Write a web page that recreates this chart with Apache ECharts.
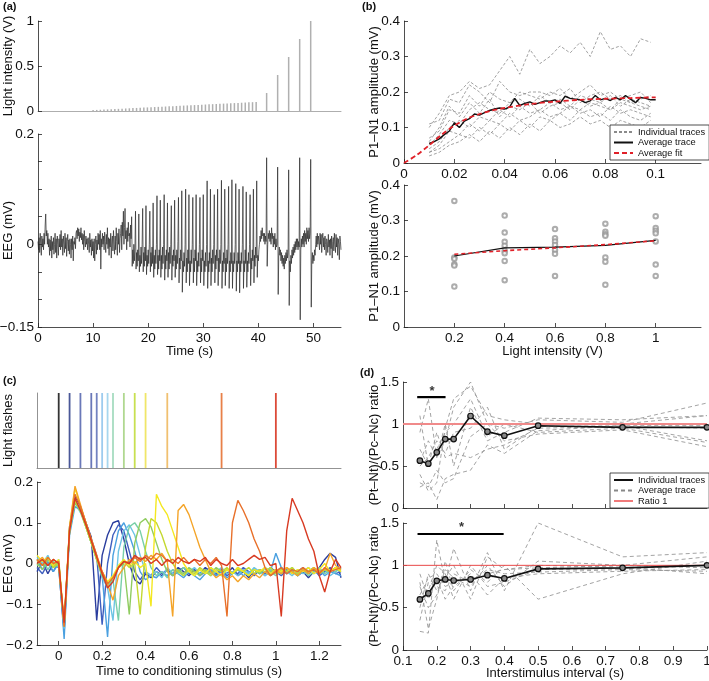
<!DOCTYPE html>
<html><head><meta charset="utf-8">
<script src="https://cdn.jsdelivr.net/npm/echarts@6/dist/echarts.min.js"></script>
<style>html,body{margin:0;padding:0;background:#fff}#c{width:709px;height:681px}</style>
</head><body><div id="c"></div><script>
// ---------- (a) ----------
const aStimTimes = [10.0,10.66,11.32,11.97,12.63,13.29,13.95,14.6,15.26,15.92,16.58,17.23,17.89,18.55,19.21,19.86,20.52,21.18,21.84,22.5,23.15,23.81,24.47,25.13,25.78,26.44,27.1,27.76,28.41,29.07,29.73,30.39,31.05,31.7,32.36,33.02,33.68,34.33,34.99,35.65,36.31,36.96,37.62,38.28,38.94,39.6,41.5,43.5,45.5,47.5,49.5];
const aStimValues = [0.01,0.012,0.014,0.016,0.018,0.02,0.022,0.024,0.026,0.028,0.03,0.032,0.034,0.036,0.038,0.04,0.042,0.044,0.046,0.048,0.05,0.052,0.054,0.056,0.058,0.06,0.062,0.064,0.066,0.068,0.07,0.072,0.074,0.076,0.078,0.08,0.082,0.084,0.086,0.088,0.09,0.092,0.094,0.096,0.098,0.1,0.2,0.4,0.6,0.8,1.0];
const aEegStart = 0, aEegStep = 0.1;
const aEeg = [
0.005,-0.01,0.012,-0.015,0.02,0.0,-0.02,0.015,-0.005,0.01,
-0.01,0.02,0.0,0.035,0.055,0.015,0.025,0.0,0.02,-0.005,
0.01,-0.02,0.008,-0.012,0.015,-0.025,0.005,-0.01,0.012,-0.018,
0.0,0.02,-0.015,0.01,-0.025,0.015,0.0,-0.02,0.01,-0.005,
0.018,-0.01,0.025,-0.005,0.01,-0.02,0.015,0.0,-0.015,0.02,
-0.008,0.012,-0.022,0.005,0.018,-0.012,0.008,-0.018,0.01,0.0,
-0.025,0.01,-0.01,0.015,-0.03,0.005,0.0,0.012,-0.008,0.02,
0.025,0.01,0.03,0.015,0.028,0.005,0.022,0.012,0.03,0.008,
0.02,0.0,0.018,-0.01,0.025,0.005,-0.005,0.015,0.0,0.01,
-0.01,0.012,0.0,-0.015,0.02,-0.005,0.008,-0.02,0.01,-0.012,
0.005,-0.025,0.01,-0.03,0.0,0.015,-0.018,0.008,-0.01,0.02,
0.0,0.018,-0.01,0.025,-0.045,0.01,-0.005,0.02,0.0,0.015,
-0.01,0.022,0.005,-0.015,0.018,0.0,0.03,-0.008,0.012,-0.02,
0.01,-0.005,0.02,-0.025,0.008,0.015,-0.012,0.025,0.0,-0.018,
0.015,-0.01,0.03,0.005,-0.02,0.02,0.0,0.028,-0.015,0.01,
0.02,0.035,-0.01,0.04,0.015,0.06,0.0,0.03,0.065,0.01,
0.025,-0.01,0.03,0.005,0.04,0.015,0.02,-0.005,0.035,0.01,
0.05,-0.04,-0.01,-0.035,0.0,-0.03,-0.005,0.06,-0.045,-0.015,
-0.04,-0.01,-0.03,0.055,-0.05,-0.02,-0.04,-0.005,-0.035,0.0,
0.065,-0.05,-0.015,-0.04,-0.005,-0.03,0.07,-0.055,-0.02,-0.04,
-0.01,-0.035,0.0,0.06,-0.05,-0.015,-0.04,-0.005,-0.035,0.075,
-0.06,-0.02,-0.045,-0.01,-0.035,0.0,0.088,-0.055,-0.02,-0.045,
-0.01,-0.03,0.08,-0.06,-0.02,-0.045,-0.005,-0.035,0.0,0.09,
-0.065,-0.02,-0.045,-0.01,-0.03,0.075,-0.06,-0.015,-0.045,-0.005,
-0.035,0.0,0.07,-0.065,-0.02,-0.04,-0.01,-0.03,0.08,-0.06,
-0.02,-0.045,-0.01,-0.035,0.005,0.085,-0.07,-0.025,-0.045,-0.01,
-0.03,0.097,-0.087,-0.03,-0.05,-0.015,-0.04,0.0,0.1,-0.07,
-0.025,-0.05,-0.01,-0.035,0.09,-0.075,-0.03,-0.05,-0.01,-0.035,
0.0,0.085,-0.07,-0.025,-0.05,-0.01,-0.03,0.09,-0.075,-0.03,
-0.05,-0.015,-0.04,0.0,0.085,-0.07,-0.025,-0.05,-0.01,-0.03,
0.09,-0.075,-0.03,-0.05,-0.015,-0.04,0.0,0.115,-0.08,-0.03,
-0.05,-0.015,-0.035,0.1,-0.075,-0.025,-0.05,-0.01,-0.035,0.0,
0.09,-0.07,-0.02,-0.045,-0.01,-0.03,0.1,-0.075,-0.025,-0.05,
-0.01,-0.035,0.0,0.116,-0.08,-0.03,-0.05,-0.015,-0.035,0.1,
-0.075,-0.025,-0.05,-0.01,-0.035,0.0,0.105,-0.08,-0.03,-0.05,
-0.015,-0.035,0.117,-0.08,-0.03,-0.05,-0.015,-0.035,0.0,0.11,
-0.085,-0.03,-0.05,-0.015,-0.035,0.1,-0.088,-0.03,-0.05,-0.015,
-0.035,0.0,0.105,-0.08,-0.03,-0.05,-0.01,-0.035,0.095,-0.078,
-0.03,-0.05,-0.015,-0.035,0.0,0.09,-0.075,-0.025,-0.045,-0.01,
-0.03,0.1,-0.07,-0.02,-0.04,-0.005,-0.025,0.115,-0.06,-0.02,
-0.03,-0.01,0.0,0.015,0.005,0.025,0.01,0.03,0.015,0.02,
0.005,0.02,0.0,0.015,0.005,0.157,-0.04,0.0,0.02,0.01,
0.025,0.005,0.02,0.0,0.03,0.01,0.02,-0.005,0.015,0.0,
0.02,-0.01,0.01,-0.005,0.0,0.14,-0.091,-0.02,-0.005,-0.02,
-0.01,-0.03,-0.015,-0.035,-0.02,-0.04,-0.025,-0.045,-0.02,-0.035,
-0.015,-0.03,-0.01,-0.025,-0.015,0.135,-0.111,-0.03,-0.05,-0.02,
-0.035,-0.01,-0.025,-0.005,-0.02,0.0,-0.015,0.005,-0.01,0.01,
-0.005,0.01,-0.01,0.005,-0.005,0.157,-0.137,-0.01,0.01,-0.005,
0.015,0.0,0.02,-0.005,0.025,0.005,0.02,0.0,0.03,0.01,
0.025,0.005,0.03,0.01,0.02,0.154,-0.114,-0.03,-0.015,-0.035,
-0.02,-0.03,-0.01,-0.02,0.0,0.015,-0.005,0.02,0.0,0.015,
0.005,-0.01,0.02,0.0,0.018,-0.015,0.01,0.02,-0.005,0.012,
-0.01,0.015,0.0,-0.02,0.01,0.005,-0.015,0.018,-0.005,0.008,
-0.02,0.01,-0.008,0.015,-0.025,0.005,0.012,-0.012,0.02,0.0,
-0.015,0.018,-0.005,0.012,-0.02,0.01,0.0,-0.028,0.015,0.005,
-0.01];
const aBotYTickVals = [-0.15, 0, 0.2];
const aBotYTickLabels = ['\u22120.15', '0', '0.2'];

// ---------- (b) ----------
const bAvgX = [0.01,0.012,0.014,0.016,0.018,0.02,0.022,0.024,0.026,0.028,0.03,0.032,0.034,0.036,0.038,0.04,0.042,0.044,0.046,0.048,0.05,0.052,0.054,0.056,0.058,0.06,0.062,0.064,0.066,0.068,0.07,0.072,0.074,0.076,0.078,0.08,0.082,0.084,0.086,0.088,0.09,0.092,0.094,0.096,0.098,0.1];
const bAvgY = [0.055,0.06,0.068,0.08,0.09,0.113,0.1,0.118,0.125,0.138,0.135,0.142,0.148,0.152,0.155,0.152,0.158,0.182,0.162,0.168,0.172,0.165,0.17,0.175,0.174,0.178,0.168,0.188,0.182,0.18,0.178,0.17,0.175,0.19,0.178,0.182,0.176,0.185,0.178,0.19,0.18,0.17,0.185,0.182,0.178,0.178];
const bFitX = [0,0.005,0.01,0.015,0.02,0.025,0.03,0.035,0.04,0.05,0.06,0.07,0.08,0.09,0.1];
const bFitY = [0,0.022,0.05,0.08,0.105,0.125,0.138,0.148,0.155,0.166,0.173,0.178,0.181,0.183,0.185];
const bIndX = [0.01,0.014,0.018,0.022,0.026,0.03,0.034,0.038,0.042,0.046,0.05,0.054,0.058,0.062,0.066,0.07,0.074,0.078,0.082,0.086,0.09,0.094,0.098];
const bInd1 = [0.1,0.14,0.19,0.2,0.23,0.21,0.22,0.26,0.3,0.25,0.32,0.28,0.3,0.33,0.31,0.34,0.3,0.37,0.32,0.33,0.3,0.35,0.34];
const bInd2 = [0.11,0.12,0.18,0.17,0.22,0.2,0.17,0.23,0.2,0.19,0.2,0.2,0.19,0.21,0.18,0.2,0.22,0.19,0.2,0.18,0.19,0.2,0.17];
const bInd3 = [0.07,0.09,0.15,0.14,0.19,0.16,0.2,0.18,0.17,0.2,0.19,0.18,0.2,0.19,0.21,0.17,0.19,0.2,0.18,0.19,0.17,0.18,0.19];
const bInd4 = [0.05,0.08,0.12,0.11,0.15,0.17,0.15,0.14,0.17,0.18,0.16,0.19,0.17,0.18,0.16,0.19,0.18,0.17,0.19,0.16,0.18,0.17,0.16];
const bInd5 = [0.04,0.06,0.1,0.12,0.1,0.13,0.12,0.15,0.13,0.16,0.14,0.15,0.17,0.15,0.16,0.15,0.17,0.16,0.15,0.17,0.16,0.15,0.16];
const bInd6 = [0.03,0.05,0.09,0.08,0.11,0.09,0.12,0.11,0.14,0.12,0.13,0.15,0.13,0.14,0.16,0.14,0.15,0.13,0.16,0.14,0.15,0.14,0.13];
const bInd7 = [0.03,0.04,0.06,0.08,0.07,0.1,0.08,0.11,0.09,0.12,0.1,0.13,0.12,0.14,0.12,0.15,0.13,0.14,0.12,0.15,0.13,0.12,0.14];
const bInd8 = [0.02,0.03,0.05,0.06,0.08,0.06,0.09,0.07,0.1,0.08,0.11,0.09,0.12,0.1,0.11,0.13,0.11,0.12,0.1,0.12,0.11,0.1,0.12];
const bInd9 = [0.06,0.1,0.16,0.13,0.17,0.14,0.18,0.13,0.16,0.15,0.17,0.14,0.16,0.17,0.15,0.18,0.16,0.17,0.15,0.18,0.17,0.16,0.15];
const bIndTraces = [bInd1,bInd2,bInd3,bInd4,bInd5,bInd6,bInd7,bInd8,bInd9];
const bBotX = [0.2,0.4,0.6,0.8,1.0];
const bBotPts02 = [0.355,0.196,0.192,0.177,0.173,0.114];
const bBotPts04 = [0.314,0.266,0.24,0.229,0.215,0.208,0.186,0.132];
const bBotPts06 = [0.276,0.25,0.241,0.231,0.217,0.206,0.144];
const bBotPts08 = [0.291,0.268,0.261,0.257,0.196,0.184,0.119];
const bBotPts10 = [0.312,0.279,0.271,0.264,0.241,0.176,0.144];
const bBotPts = [bBotPts02,bBotPts04,bBotPts06,bBotPts08,bBotPts10];
const bBotAvg = [0.2,0.223,0.225,0.23,0.244];
const bBotFit = [0.205,0.215,0.223,0.232,0.243];
const bLegendNames = ['Individual traces','Average trace','Average fit'];

// ---------- (c) ----------
const cFlashTimes = [0,0.05,0.1,0.15,0.175,0.2,0.225,0.25,0.3,0.35,0.4,0.5,0.75,1.0];
const cFlashColors = ['#333333','#4a5898','#6a78b8','#6a78b8','#7282c0','#9ccbee','#a6d6ee','#a6dcc0','#b0d890','#c8e050','#f0e668','#f0c070','#e88048','#dc4a38'];
const cStart = -0.1, cStep = 0.025;
const cTraceColors = ['#2a3d9e','#3f5fbf','#4aa0e0','#6cc4e4','#78cfa8','#90cc60','#c4d830','#f4e820','#f4a428','#e8702a','#d83a22'];
const cT015 = [-0.02,0.005,-0.025,0.0,-0.01,-0.17,0.09,0.165,0.14,0.1,
0.065,-0.14,0.02,0.07,0.1,0.105,0.06,0.0,-0.04,-0.05,
-0.025,-0.035,-0.02,-0.03,-0.015,-0.025,-0.01,-0.02,-0.03,-0.015,
-0.025,-0.01,-0.02,-0.03,-0.015,-0.025,-0.01,-0.03,-0.02,-0.035,
-0.015,-0.025,-0.01,-0.03,-0.02,-0.01,-0.025,-0.015,-0.03,-0.02,
-0.035,-0.02,-0.01,0.01,0.025,0.015,-0.035];
const cT0175 = [-0.01,-0.025,0.0,-0.02,0.005,-0.16,0.08,0.15,0.135,0.1,
0.06,0.02,-0.15,0.0,0.07,0.095,0.08,0.03,-0.02,-0.04,
-0.02,-0.03,-0.01,-0.025,-0.015,-0.03,-0.02,-0.01,-0.025,-0.015,
-0.03,-0.02,-0.01,-0.025,-0.015,-0.03,-0.02,-0.025,-0.01,-0.02,
-0.03,-0.015,-0.025,-0.01,-0.02,-0.03,-0.015,-0.025,-0.02,-0.01,
-0.025,-0.015,-0.03,-0.02,-0.01,-0.025,-0.02];
const cT02 = [0.01,-0.015,0.005,-0.02,0.0,-0.185,0.07,0.14,0.13,0.095,
0.055,0.015,-0.03,-0.18,0.02,0.08,0.1,0.07,0.03,-0.02,
-0.04,-0.03,-0.035,-0.02,-0.03,-0.015,-0.025,-0.035,-0.02,-0.03,
-0.04,-0.025,-0.015,-0.03,-0.02,-0.035,-0.025,-0.015,-0.03,-0.02,
-0.025,-0.015,-0.03,-0.02,0.025,-0.01,-0.025,-0.015,-0.03,-0.02,
-0.01,-0.025,-0.015,-0.03,-0.02,-0.025,-0.03];
const cT0225 = [0.015,0.0,0.02,-0.01,0.01,-0.16,0.085,0.155,0.13,0.095,
0.05,0.01,-0.035,-0.06,-0.14,0.03,0.08,0.095,0.07,0.02,
-0.02,-0.03,-0.02,-0.035,-0.01,-0.025,-0.015,-0.03,-0.02,-0.01,
-0.025,-0.015,-0.03,-0.02,-0.01,-0.025,-0.02,-0.03,-0.015,-0.025,
-0.01,-0.02,-0.03,-0.015,-0.025,-0.01,-0.02,-0.03,-0.015,-0.025,
-0.02,-0.01,-0.025,-0.015,-0.03,-0.02,-0.01];
const cT025 = [-0.005,0.01,-0.015,0.005,-0.01,-0.15,0.08,0.15,0.125,0.09,
0.05,0.01,-0.03,-0.055,-0.04,-0.14,0.04,0.09,0.1,0.08,
0.03,-0.01,-0.03,-0.02,-0.035,-0.015,-0.025,-0.01,-0.02,-0.03,
-0.015,-0.025,-0.01,-0.02,-0.03,-0.015,-0.025,-0.01,-0.02,-0.03,
-0.015,-0.025,-0.01,-0.02,-0.03,-0.015,-0.02,-0.01,-0.025,-0.015,
-0.03,-0.02,-0.01,-0.025,-0.015,-0.02,-0.01];
const cT03 = [0.0,-0.015,0.01,-0.01,0.005,-0.155,0.08,0.15,0.13,0.09,
0.05,0.01,-0.03,-0.05,-0.035,-0.01,0.0,-0.125,0.05,0.1,
0.11,0.09,0.05,0.01,-0.02,-0.03,-0.015,-0.025,-0.01,-0.02,
-0.03,-0.015,-0.025,-0.01,-0.02,-0.015,-0.025,-0.01,-0.02,-0.03,
-0.015,-0.025,-0.01,-0.02,-0.015,-0.025,-0.01,-0.02,-0.03,-0.015,
-0.02,-0.01,-0.025,-0.015,-0.02,-0.01,-0.02];
const cT035 = [0.01,-0.005,0.015,-0.01,0.0,-0.15,0.08,0.155,0.13,0.09,
0.05,0.01,-0.025,-0.05,-0.035,-0.01,0.005,-0.01,0.0,-0.125,
0.04,0.11,0.1,0.07,0.03,0.0,-0.02,-0.03,-0.015,-0.025,
-0.01,-0.02,-0.03,-0.015,-0.02,-0.01,-0.025,-0.015,-0.02,-0.01,
-0.025,-0.015,-0.02,-0.01,-0.025,-0.015,-0.02,-0.01,-0.025,-0.015,
-0.02,-0.01,-0.025,-0.015,-0.02,-0.01,-0.015];
const cT04 = [0.02,0.005,0.015,-0.005,0.01,-0.145,0.09,0.185,0.14,0.1,
0.055,0.015,-0.02,-0.045,-0.03,-0.005,0.01,-0.005,0.005,-0.01,
0.0,-0.105,0.17,0.14,0.12,0.08,0.04,0.0,-0.02,-0.03,
-0.015,-0.025,-0.01,-0.02,-0.03,-0.015,-0.025,-0.01,-0.02,-0.03,
-0.015,-0.02,-0.01,-0.025,-0.015,-0.02,-0.01,-0.025,-0.015,-0.02,
-0.01,-0.025,-0.015,0.0,-0.02,-0.01,-0.02];
const cT05 = [0.005,0.015,-0.005,0.01,0.0,-0.15,0.09,0.19,0.145,0.1,
0.06,0.02,-0.02,-0.05,-0.09,-0.03,-0.01,0.01,0.0,0.015,
0.005,0.02,0.01,0.025,0.005,-0.13,0.13,0.145,0.12,0.08,
0.04,0.01,-0.02,-0.035,-0.025,-0.04,-0.03,-0.045,-0.03,-0.04,
-0.025,-0.035,-0.02,-0.03,-0.015,-0.025,-0.01,-0.02,-0.03,-0.015,
-0.025,-0.01,-0.02,-0.015,0.025,-0.005,-0.015];
const cT075 = [0.01,-0.005,0.015,0.0,0.005,-0.155,0.085,0.17,0.14,0.1,
0.06,0.02,-0.02,-0.05,-0.035,-0.01,0.005,0.0,0.015,0.005,
0.02,0.01,0.025,0.02,0.005,0.01,0.0,0.015,0.0,0.01,
-0.005,0.01,0.0,0.015,-0.005,-0.13,0.1,0.155,0.13,0.1,
0.06,0.03,-0.01,-0.03,-0.02,-0.01,-0.025,-0.015,-0.02,-0.01,
-0.02,-0.015,-0.025,-0.01,-0.02,-0.015,-0.01];
const cT10 = [0.0,0.01,-0.005,0.01,0.0,-0.145,0.08,0.16,0.13,0.095,
0.055,0.015,-0.025,-0.06,-0.045,-0.01,0.005,0.0,0.02,0.01,
0.015,0.0,0.01,-0.005,0.01,0.0,0.015,0.005,0.0,0.01,
0.005,0.015,-0.005,0.01,0.0,-0.005,0.01,-0.005,0.0,0.01,
0.02,0.01,0.015,-0.005,0.0,-0.13,0.08,0.16,0.13,0.1,
0.06,0.03,-0.03,-0.07,-0.02,0.01,-0.01];
const cTraces = [cT015,cT0175,cT02,cT0225,cT025,cT03,cT035,cT04,cT05,cT075,cT10];

// ---------- (d) ----------
const dX = [0.15,0.175,0.2,0.225,0.25,0.3,0.35,0.4,0.5,0.75,1.0];
const dTopAvg = [0.563,0.528,0.663,0.821,0.82,1.095,0.909,0.861,0.98,0.96,0.96];
const dTopA = [0.9,1.3,0.6,0.8,1.2,1.5,1.0,0.95,1.05,1.02,1.25];
const dTopB = [0.4,0.2,0.3,0.95,1.3,1.45,1.1,1.05,1.0,1.0,1.1];
const dTopC = [0.25,0.3,0.1,0.35,0.4,0.45,0.75,0.65,0.92,0.98,0.8];
const dTopD = [0.7,0.5,0.9,0.6,0.65,0.6,0.7,0.75,0.95,0.97,0.95];
const dTopE = [0.55,0.8,0.6,1.0,0.5,1.2,0.8,0.9,1.07,1.05,1.1];
const dTopF = [0.3,0.25,0.45,0.3,0.35,0.85,1.0,0.8,0.88,0.93,0.73];
const dTopG = [1.1,0.5,0.7,0.9,1.0,1.3,0.85,1.0,0.9,0.95,0.78];
const dTopH = [0.5,0.6,0.8,0.65,0.9,0.95,1.2,0.7,0.97,0.98,0.98];
const dTopTraces = [dTopA,dTopB,dTopC,dTopD,dTopE,dTopF,dTopG,dTopH];
const dBotAvg = [0.597,0.668,0.817,0.833,0.821,0.833,0.884,0.845,0.958,0.97,1.0];
const dBotA = [0.22,0.2,1.3,0.8,1.2,0.7,1.15,0.7,1.5,1.1,1.15];
const dBotB = [0.8,0.25,0.6,1.05,0.7,0.95,0.8,1.0,0.6,0.9,1.05];
const dBotC = [0.5,0.9,0.7,0.85,1.0,0.6,1.1,0.95,1.0,0.98,0.9];
const dBotD = [0.9,0.6,0.85,0.6,0.75,0.9,0.65,0.85,0.9,0.93,0.95];
const dBotE = [0.6,0.7,1.0,0.9,0.6,1.0,0.75,0.8,0.95,0.96,1.0];
const dBotF = [0.35,0.8,0.75,0.7,0.9,0.8,0.95,0.9,0.92,0.95,0.93];
const dBotG = [0.75,0.5,0.65,0.95,0.85,0.75,1.0,0.75,1.05,1.0,1.1];
const dBotH = [0.65,0.85,0.9,0.75,0.8,0.85,0.9,0.95,0.97,1.0,0.97];
const dBotTraces = [dBotA,dBotB,dBotC,dBotD,dBotE,dBotF,dBotG,dBotH];
const dRatioX = [0.1, 1.0];
const dRatioY = 1;
const dTopSigX = [0.142, 0.226], dTopSigY = 1.32, dTopStar = [0.186, 1.39];
const dBotSigX = [0.143, 0.398], dBotSigY = 1.37, dBotStar = [0.273, 1.45];
const dLegendKeys = ['dLeg1','dLeg2','dLeg3'];
const dLegendText = ['Individual traces','Average trace','Ratio 1'];

// ---------- build ----------
const FONT = "'Liberation Sans', Arial, Helvetica, sans-serif";
const AX = '#222';
function merge(a, b) {
  for (const k in b) {
    if (b[k] && typeof b[k] === 'object' && !Array.isArray(b[k]) && a[k] && typeof a[k] === 'object' && typeof b[k] !== 'function') merge(a[k], b[k]);
    else a[k] = b[k];
  }
  return a;
}
function axis(gi, extra) {
  return merge({
    type: 'value', gridIndex: gi,
    axisLine: { show: true, onZero: false, lineStyle: { color: AX, width: 0.8 } },
    axisTick: { show: true, inside: true, length: 4, lineStyle: { color: AX, width: 0.8 } },
    axisLabel: { show: true, color: '#111', fontSize: 13.5, fontFamily: FONT, margin: 4 },
    splitLine: { show: false },
    nameLocation: 'middle', nameMoveOverlap: false,
    nameTextStyle: { fontSize: 13, fontFamily: FONT, color: '#111' }
  }, extra || {});
}
const minus = v => String(v).replace('-', '\u2212');

const grids = [
  { left: 38, top: 21, width: 303, height: 90 },
  { left: 38, top: 134, width: 303, height: 193 },
  { left: 404, top: 21, width: 297, height: 142 },
  { left: 404, top: 185, width: 297, height: 142 },
  { left: 37, top: 393, width: 304, height: 75 },
  { left: 37, top: 482, width: 304, height: 163 },
  { left: 403, top: 382, width: 304, height: 126 },
  { left: 403, top: 523, width: 304, height: 127 }
].map(g => Object.assign({ outerBoundsMode: 'none', containLabel: false }, g));

const xAxes = [
  axis(0, { min: 0, max: 55, axisLine: { lineStyle: { color: '#999' } }, axisTick: { show: false }, axisLabel: { show: false } }),
  axis(1, { min: 0, max: 55, interval: 10, axisLabel: { showMaxLabel: false }, name: 'Time (s)', nameGap: 18 }),
  axis(2, { min: 0, max: 0.118, interval: 0.02, axisLabel: { showMaxLabel: false } }),
  axis(3, { min: 0, max: 1.18, interval: 0.2, axisLabel: { showMinLabel: false, showMaxLabel: false }, name: 'Light intensity (V)', nameGap: 18 }),
  axis(4, { min: -0.1, max: 1.3, axisLine: { lineStyle: { color: '#777' } }, axisTick: { show: false }, axisLabel: { show: false } }),
  axis(5, { min: -0.1, max: 1.3, minInterval: 0.2, maxInterval: 0.2, splitNumber: 7, axisLabel: { showMinLabel: false, showMaxLabel: false }, name: 'Time to conditioning stimulus (s)', nameGap: 20 }),
  axis(6, { min: 0.1, max: 1, interval: 0.1, axisLabel: { show: false } }),
  axis(7, { min: 0.1, max: 1, interval: 0.1, name: 'Interstimulus interval (s)', nameGap: 17 })
];
const yAxes = [
  axis(0, { min: 0, max: 1, interval: 0.5, name: 'Light intensity (V)', nameGap: 23 }),
  axis(1, { min: -0.15, max: 0.2, interval: 0.05, name: 'EEG (mV)', nameGap: 23,
    axisLabel: { formatter: v => { const i = aBotYTickVals.indexOf(Math.round(v * 1000) / 1000); return i >= 0 ? aBotYTickLabels[i] : ''; } } }),
  axis(2, { min: 0, max: 0.4, interval: 0.1, name: 'P1\u2013N1 amplitude (mV)', nameGap: 23 }),
  axis(3, { min: 0, max: 0.4, interval: 0.1, name: 'P1\u2013N1 amplitude (mV)', nameGap: 23 }),
  axis(4, { min: 0, max: 1, axisLine: { lineStyle: { color: '#777' } }, axisTick: { show: false }, axisLabel: { show: false }, name: 'Light flashes', nameGap: 22 }),
  axis(5, { min: -0.2, max: 0.2, interval: 0.1, name: 'EEG (mV)', nameGap: 22, axisLabel: { formatter: minus } }),
  axis(6, { min: 0, max: 1.5, interval: 0.5, name: '(Pt\u2013Nt)/(Pc\u2013Nc) ratio', nameGap: 22 }),
  axis(7, { min: 0, max: 1.5, interval: 0.5, name: '(Pt\u2013Nt)/(Pc\u2013Nc) ratio', nameGap: 22 })
];

const series = [];
// (a) top
series.push({ type: 'bar', xAxisIndex: 0, yAxisIndex: 0, barWidth: 1.5, silent: true,
  itemStyle: { color: '#b0b0b0' }, data: aStimTimes.map((t, i) => [t, aStimValues[i]]) });
// (a) bottom
series.push({ type: 'line', xAxisIndex: 1, yAxisIndex: 1, symbol: 'none', silent: true,
  lineStyle: { color: '#2a2a2a', width: 0.7 }, data: aEeg.map((v, i) => [aEegStart + i * aEegStep, v]) });
// (b) top
bIndTraces.forEach(tr => series.push({ type: 'line', name: 'Individual traces', xAxisIndex: 2, yAxisIndex: 2, symbol: 'none', silent: true,
  itemStyle: { color: '#8a8a8a' }, lineStyle: { color: '#8a8a8a', width: 0.8, type: [3, 2] }, data: tr.map((v, i) => [bIndX[i], v]) }));
series.push({ type: 'line', name: 'Average trace', xAxisIndex: 2, yAxisIndex: 2, symbol: 'none', silent: true,
  itemStyle: { color: '#111' }, lineStyle: { color: '#111', width: 1.4 }, data: bAvgY.map((v, i) => [bAvgX[i], v]) });
series.push({ type: 'line', name: 'Average fit', xAxisIndex: 2, yAxisIndex: 2, symbol: 'none', smooth: 0.3, silent: true,
  itemStyle: { color: '#e02028' }, lineStyle: { color: '#e02028', width: 1.8, type: [5, 3] }, data: bFitY.map((v, i) => [bFitX[i], v]) });
// (b) bottom
const bBotScatter = [];
bBotPts.forEach((col, i) => col.forEach(v => bBotScatter.push([bBotX[i], v])));
series.push({ type: 'scatter', xAxisIndex: 3, yAxisIndex: 3, symbol: 'emptyCircle', symbolSize: 4.5, silent: true,
  itemStyle: { color: '#999', borderWidth: 0.7 }, data: bBotScatter });
series.push({ type: 'line', name: 'bBotAvg', xAxisIndex: 3, yAxisIndex: 3, symbol: 'none', silent: true,
  lineStyle: { color: '#111', width: 1.1 }, data: bBotAvg.map((v, i) => [bBotX[i], v]) });
series.push({ type: 'line', name: 'bBotFit', xAxisIndex: 3, yAxisIndex: 3, symbol: 'none', silent: true,
  lineStyle: { color: '#e02028', width: 1.6, type: [4, 3] }, data: bBotFit.map((v, i) => [bBotX[i], v]) });
// (c) top
series.push({ type: 'bar', xAxisIndex: 4, yAxisIndex: 4, barWidth: 1.8, silent: true,
  data: cFlashTimes.map((t, i) => ({ value: [t, 1], itemStyle: { color: cFlashColors[i] } })) });
// (c) bottom
cTraces.forEach((tr, k) => series.push({ type: 'line', xAxisIndex: 5, yAxisIndex: 5, symbol: 'none', silent: true,
  lineStyle: { color: cTraceColors[k], width: 1.4 }, data: tr.map((v, i) => [cStart + i * cStep, v]) }));
// (d)
[[6, dTopTraces, dTopAvg, dTopSigX, dTopSigY, dTopStar, '#f08a8a', 2], [7, dBotTraces, dBotAvg, dBotSigX, dBotSigY, dBotStar, '#e84848', 1]].forEach(p => {
  const [gi, trs, avg, sx, sy, star, rc, rw] = p;
  trs.forEach(tr => series.push({ type: 'line', xAxisIndex: gi, yAxisIndex: gi, symbol: 'none', silent: true,
    lineStyle: { color: '#999', width: 0.9, type: [4, 3] }, data: tr.map((v, i) => [dX[i], v]) }));
  series.push({ type: 'line', xAxisIndex: gi, yAxisIndex: gi, symbol: 'none', silent: true, z: 3,
    lineStyle: { color: rc, width: rw }, data: dRatioX.map(x => [x, dRatioY]) });
  series.push({ type: 'line', xAxisIndex: gi, yAxisIndex: gi, symbol: 'circle', symbolSize: 5.5, silent: true, z: 4,
    itemStyle: { color: '#888', borderColor: '#111', borderWidth: 1.2 },
    lineStyle: { color: '#111', width: 1.6 }, data: avg.map((v, i) => [dX[i], v]) });
  series.push({ type: 'line', xAxisIndex: gi, yAxisIndex: gi, symbol: 'none', silent: true,
    lineStyle: { color: '#000', width: 2.2 }, data: sx.map(x => [x, sy]) });
  series.push({ type: 'scatter', xAxisIndex: gi, yAxisIndex: gi, symbolSize: 1, silent: true,
    itemStyle: { color: 'rgba(0,0,0,0)' },
    label: { show: true, position: 'inside', formatter: '*', color: '#000', fontSize: 13, fontWeight: 'bold', fontFamily: FONT },
    data: [star] });
});
// (d) legend dummies
series.push({ type: 'line', name: 'dLeg1', xAxisIndex: 6, yAxisIndex: 6, symbol: 'none', data: [], itemStyle: { color: '#111' }, lineStyle: { color: '#111', width: 2 } });
series.push({ type: 'line', name: 'dLeg2', xAxisIndex: 6, yAxisIndex: 6, symbol: 'none', data: [], itemStyle: { color: '#888' }, lineStyle: { color: '#888', width: 1, type: [4, 3] } });
series.push({ type: 'line', name: 'dLeg3', xAxisIndex: 6, yAxisIndex: 6, symbol: 'none', data: [], itemStyle: { color: '#f07a7a' }, lineStyle: { color: '#f07a7a', width: 2 } });

const legendBase = {
  orient: 'vertical', itemGap: 0.5, itemWidth: 19, itemHeight: 10, itemTextGap: 3,
  padding: [2, 4, 2, 3], borderColor: '#222', borderWidth: 0.8, borderRadius: 0, backgroundColor: '#fff',
  selectedMode: false,
  itemStyle: { color: 'rgba(0,0,0,0)', borderColor: 'rgba(0,0,0,0)', borderWidth: 0, opacity: 0 },
  textStyle: { fontSize: 9.3, fontFamily: FONT, color: '#111', lineHeight: 10 }
};

const option = {
  animation: false,
  backgroundColor: '#fff',
  grid: grids, xAxis: xAxes, yAxis: yAxes, series: series,
  legend: [
    Object.assign({}, legendBase, { left: 610, top: 125, data: bLegendNames }),
    Object.assign({}, legendBase, { left: 610, top: 473, data: dLegendKeys,
      formatter: n => dLegendText[dLegendKeys.indexOf(n)] })
  ],
  graphic: [
    { type: 'text', left: 3, top: 1, style: { text: '(a)', font: 'bold 11px ' + FONT, fill: '#111' } },
    { type: 'text', left: 362, top: 1, style: { text: '(b)', font: 'bold 11px ' + FONT, fill: '#111' } },
    { type: 'text', left: 3, top: 375, style: { text: '(c)', font: 'bold 11px ' + FONT, fill: '#111' } },
    { type: 'text', left: 360, top: 367, style: { text: '(d)', font: 'bold 11px ' + FONT, fill: '#111' } }
  ]
};
const chart = echarts.init(document.getElementById('c'), null, { renderer: 'canvas' });
chart.setOption(option);
</script></body></html>
